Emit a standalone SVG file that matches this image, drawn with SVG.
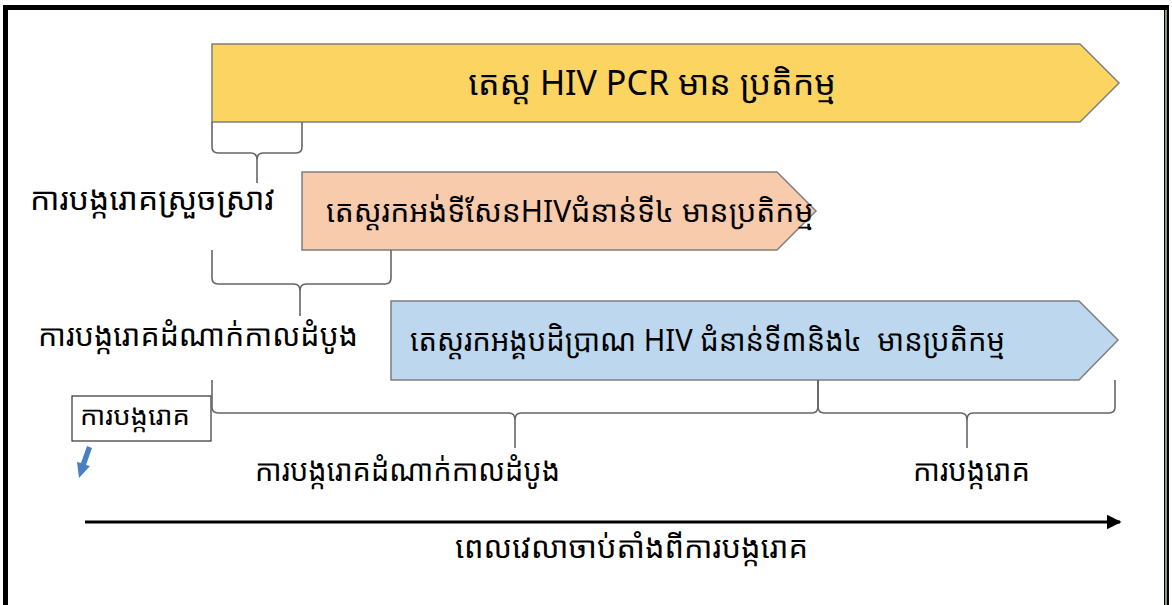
<svg xmlns="http://www.w3.org/2000/svg" width="1172" height="605" viewBox="0 0 1172 605">
<style>
.t{font-family:"Noto Sans Khmer","Khmer OS","Khmer OS System","Noto Sans","DejaVu Sans",sans-serif;fill:#000}
.br{fill:none;stroke:#666;stroke-width:1.6}
.ar{stroke:#7f7f7f;stroke-width:1.5}
</style>
<defs>
<marker id="ah" viewBox="0 0 10 10" refX="9" refY="5" markerWidth="5" markerHeight="5" orient="auto"><path d="M0,0 L10,5 L0,10 z" fill="#000"/></marker>
</defs>
<rect width="1172" height="605" fill="#fff"/>
<rect x="5.5" y="7.5" width="1161" height="620" fill="none" stroke="#000" stroke-width="5"/>
<line x1="1166" y1="10" x2="1166" y2="605" stroke="#b8c9a0" stroke-width="1.5"/>

<g id="yellow">
<path class="ar" d="M212,44 H1080 L1119,83 L1080,122 H212 Z" fill="#fcd462"/>
<text class="t" x="652" y="95" font-size="34" text-anchor="middle">តេស្ត HIV PCR មាន ប្រតិកម្ម</text>
</g>
<g id="salmon">
<path class="ar" d="M302,172 H777 L816,211 L777,250 H302 Z" fill="#f8cbad"/>
<text class="t" x="326" y="222" font-size="30">តេស្តរកអង់ទីសែនHIVជំនាន់ទី៤ មានប្រតិកម្ម</text>
</g>
<g id="blue">
<path class="ar" d="M391,301 H1079 L1118,340 L1079,380 H391 Z" fill="#bdd7ee"/>
<text class="t" x="410" y="351" font-size="30" xml:space="preserve" textLength="595" lengthAdjust="spacingAndGlyphs">តេស្តរកអង្គបដិប្រាណ HIV ជំនាន់ទី៣និង៤  មានប្រតិកម្ម</text>
</g>

<g id="label-acute">
<text class="t" x="30" y="210" font-size="31" textLength="245" lengthAdjust="spacingAndGlyphs">ការបង្ករោគស្រួចស្រាវ</text>
</g>
<g id="label-early1">
<text class="t" x="38" y="346" font-size="30" textLength="320" lengthAdjust="spacingAndGlyphs">ការបង្ករោគដំណាក់កាលដំបូង</text>
</g>
<g id="label-early2">
<text class="t" x="255" y="481" font-size="30" textLength="305" lengthAdjust="spacingAndGlyphs">ការបង្ករោគដំណាក់កាលដំបូង</text>
</g>
<g id="label-infection">
<text class="t" x="913" y="481" font-size="30" textLength="117" lengthAdjust="spacingAndGlyphs">ការបង្ករោគ</text>
</g>
<g id="box-infection">
<rect x="72" y="396" width="139" height="45" fill="#fff" stroke="#333" stroke-width="1.2"/>
<text class="t" x="80" y="425" font-size="26" textLength="110" lengthAdjust="spacingAndGlyphs">ការបង្ករោគ</text>
</g>
<g id="time-label">
<text class="t" x="455" y="558" font-size="30" textLength="353" lengthAdjust="spacingAndGlyphs">ពេលវេលាចាប់តាំងពីការបង្ករោគ</text>
</g>

<g id="connectors">
<path class="br" d="M212,122 V147 Q212,153 218,153 H251 Q257,153 257,160 V183 M257,160 Q257,153 263,153 H296 Q302,153 302,147 V122"/>
<path class="br" d="M212,250 V278 Q212,284 218,284 H294 Q300,284 300,291 V316 M300,291 Q300,284 306,284 H385 Q391,284 391,278 V250"/>
<path class="br" d="M212,380 V407 Q212,413 218,413 H509 Q515,413 515,420 V448 M515,420 Q515,413 521,413 H812 Q818,413 818,406 V380"/>
<path class="br" d="M818,380 V406 Q818,413 824,413 H961 Q967,413 967,420 V448 M967,420 Q967,413 973,413 H1109 Q1115,413 1115,407 V380"/>
<line x1="85" y1="522" x2="1120" y2="522" stroke="#000" stroke-width="3" marker-end="url(#ah)"/>
<path d="M87,446 L92,448 L86,465 L90,466 L79,478 L77,462 L81,463 Z" fill="#4a7fc1"/>
</g>
</svg>
